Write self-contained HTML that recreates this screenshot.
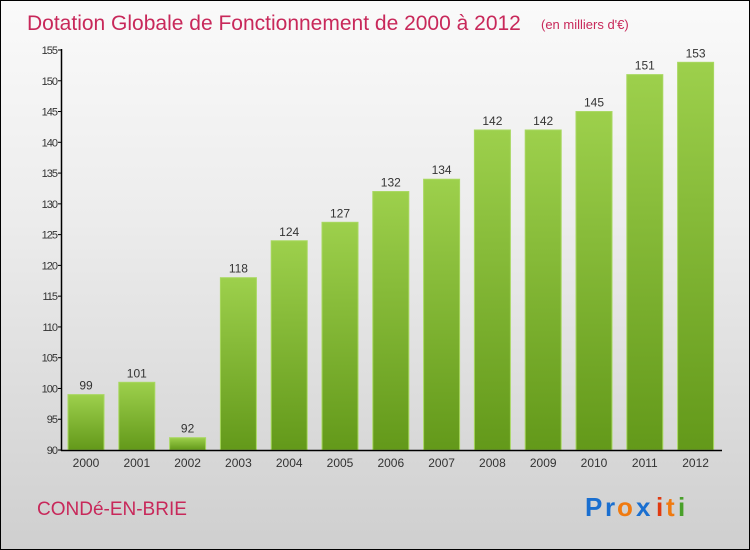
<!DOCTYPE html>
<html><head><meta charset="utf-8"><style>
body{margin:0;}
#c{width:748px;height:548px;border:1px solid #000;background:linear-gradient(#fafafa,#ececec 40%,#cfcfcf);position:relative;font-family:"Liberation Sans",sans-serif;overflow:hidden}
svg{position:absolute;left:0;top:0}
</style></head><body>
<div id="c">
<svg id="s" width="748" height="548">
<defs><linearGradient id="g" x1="0" y1="0" x2="0" y2="1"><stop offset="0" stop-color="#9dd04c"/><stop offset="1" stop-color="#63991a"/></linearGradient></defs>
<text x="26" y="29" font-size="21" fill="#c8285a">Dotation Globale de Fonctionnement de 2000 à 2012</text>
<text x="540" y="28" font-size="13" fill="#c8285a">(en milliers d'€)</text>
<text x="36" y="514" font-size="19" fill="#c8285a">CONDé-EN-BRIE</text>
<g font-size="26" font-weight="bold" font-family="Liberation Sans,sans-serif">
<text x="584" y="515" fill="#1a6fd0">P</text><text x="604" y="515" fill="#1a6fd0">r</text><text x="616" y="515" fill="#f07a10">o</text><text x="635" y="515" fill="#1a6fd0">x</text><text x="655" y="515" fill="#e03a10">i</text><text x="665" y="515" fill="#f07a10">t</text><text x="677" y="515" fill="#49a02a">i</text></g>
<g id="plot"></g>
</svg></div>
<script>
const years=["2000","2001","2002","2003","2004","2005","2006","2007","2008","2009","2010","2011","2012"];
const values=[99,101,92,118,124,127,132,134,142,142,145,151,153];
const ticks=[90,95,100,105,110,115,120,125,130,135,140,145,150,155];
const ymin=90,ymax=155,y0=449,y1=49;
function y(v){return y0-(v-ymin)/(ymax-ymin)*(y0-y1);}
function x(i){return 67+i*50.8;}
const ns="http://www.w3.org/2000/svg",p=document.getElementById('plot');
function mk(t,a,txt){const e=document.createElementNS(ns,t);for(const k in a)e.setAttribute(k,a[k]);if(txt!==undefined)e.textContent=txt;p.appendChild(e);return e;}
values.forEach((v,i)=>{
 const r=mk('rect',{x:x(i),y:y(v),width:36,height:y0-y(v),fill:'url(#g)',stroke:'#a8d860','stroke-width':1});
 
 
 const t=mk('text',{x:x(i)+18,y:y(v)-5,'font-size':12,fill:'#333','text-anchor':'middle'},v);
 
 
 const l=mk('text',{x:x(i)+18,y:466,'font-size':12,fill:'#333','text-anchor':'middle'},years[i]);
 
 
});
ticks.forEach(v=>{
 const t=mk('text',{x:56,y:y(v)+4,'font-size':11,fill:'#333','text-anchor':'end','letter-spacing':'-1'},v);
 
 
 mk('line',{x1:57,x2:61,y1:y(v),y2:y(v),stroke:'#000'});
});
const ya=mk('line',{x1:60.5,x2:60.5,y1:y1-1,y2:y0+1,stroke:'#000','stroke-width':1.5});


const xa=mk('line',{x1:60,x2:721,y1:y0+0.5,y2:y0+0.5,stroke:'#000','stroke-width':1.5});


</script>
</body></html>
